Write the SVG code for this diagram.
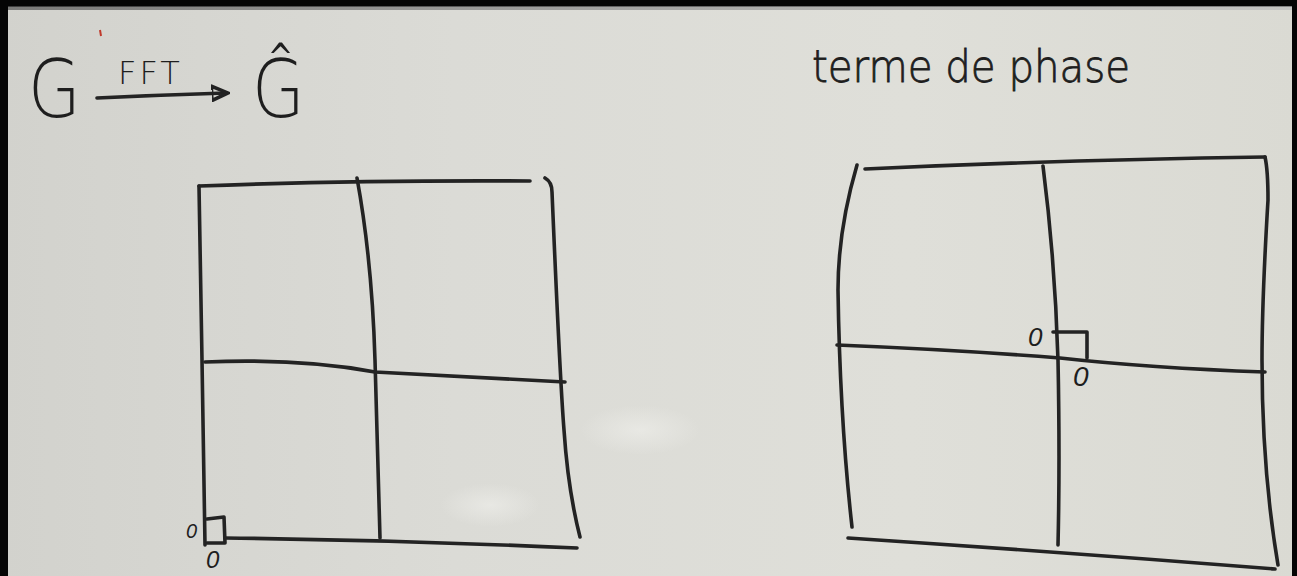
<svg xmlns="http://www.w3.org/2000/svg" width="1297" height="576" viewBox="0 0 1297 576">
<defs>
  <linearGradient id="board" x1="0" y1="0" x2="1" y2="0">
    <stop offset="0" stop-color="#d2d2cd"/>
    <stop offset="0.35" stop-color="#dbdbd6"/>
    <stop offset="0.7" stop-color="#dfdfd9"/>
    <stop offset="1" stop-color="#dadad3"/>
  </linearGradient>
  <radialGradient id="glare" cx="0.5" cy="0.5" r="0.5">
    <stop offset="0" stop-color="#f0f0ec" stop-opacity="0.6"/>
    <stop offset="1" stop-color="#f0f0ec" stop-opacity="0"/>
  </radialGradient>
  <linearGradient id="topband" x1="0" y1="0" x2="1" y2="0">
    <stop offset="0" stop-color="#555"/>
    <stop offset="0.6" stop-color="#999"/>
    <stop offset="1" stop-color="#bbb"/>
  </linearGradient>
  <marker id="head" viewBox="0 0 10 10" refX="8" refY="5" markerWidth="5" markerHeight="5" orient="auto" markerUnits="strokeWidth">
    <path d="M0,1 L9,5 L0,9 Z" fill="none" stroke="#222" stroke-width="2"/>
  </marker>
  <style>
    .ink { fill: none; stroke: #232323; stroke-width: 3.6; stroke-linecap: round; stroke-linejoin: round; }
    .hand { font-family: "DejaVu Sans", "Liberation Sans", sans-serif; font-weight: 200; fill: #1e1e1e; }
    .zero { font-family: "Liberation Sans", sans-serif; font-style: italic; fill: #1e1e1e; }
  </style>
</defs>

<!-- board background -->
<rect x="0" y="0" width="1297" height="576" fill="url(#board)"/>
<ellipse cx="640" cy="430" rx="60" ry="25" fill="url(#glare)"/>
<ellipse cx="490" cy="505" rx="50" ry="22" fill="url(#glare)"/>
<rect x="0" y="0" width="1297" height="7" fill="#050505"/>
<rect x="0" y="6" width="1297" height="4" fill="url(#topband)" opacity="0.7"/>
<rect x="0" y="0" width="8" height="576" fill="#050505"/>
<rect x="1292" y="0" width="5" height="576" fill="#050505"/>
<path d="M100,30 L101,36" stroke="#c0392b" stroke-width="2"/>

<!-- top-left formula -->
<g id="formula">
  <text class="hand" x="28" y="117" font-size="80" transform="translate(28 0) scale(0.85 1) translate(-28 0)">G</text>
  <text class="hand" x="118" y="84" font-size="32" letter-spacing="3" font-weight="400">FFT</text>
  <text class="hand" x="252" y="117" font-size="80" transform="translate(252 0) scale(0.85 1) translate(-252 0)">Ĝ</text>
</g>

<!-- right label -->
<g id="label-phase">
  <text class="hand" x="812" y="82" font-size="44" textLength="318" lengthAdjust="spacingAndGlyphs" font-weight="400" stroke="#1e1e1e" stroke-width="0.8">terme de phase</text>
</g>

<!-- left grid -->
<g id="grid-left">
  <path class="ink" d="M199,186 Q360,180 530,181"/>
  <path class="ink" d="M199,186 L202,360 L205,545"/>
  <path class="ink" d="M357,178 Q372,260 375,360 L380,538"/>
  <path class="ink" d="M545,178 Q552,182 552,192 Q560,380 564,430 Q568,490 580,537"/>
  <path class="ink" d="M205,362 Q300,358 375,372 L565,382"/>
  <path class="ink" d="M225,538 Q400,540 577,548"/>
  <path class="ink" d="M207,519 L224,517 L225,543 L207,543"/>
  <text class="zero" x="186" y="538" font-size="20">0</text>
  <text class="zero" x="206" y="568" font-size="24">0</text>
</g>

<!-- right grid -->
<g id="grid-right">
  <path class="ink" d="M865,169 Q1060,160 1265,157"/>
  <path class="ink" d="M857,165 Q838,230 838,290 Q840,420 852,527"/>
  <path class="ink" d="M1043,166 Q1055,260 1058,360 Q1060,460 1058,545"/>
  <path class="ink" d="M1265,157 Q1268,170 1268,200 Q1262,300 1262,360 Q1262,470 1278,565"/>
  <path class="ink" d="M837,345 Q960,350 1060,358 Q1150,368 1265,372"/>
  <path class="ink" d="M848,538 Q1060,552 1275,569"/>
  <path class="ink" d="M1053,332 L1087,332 L1087,358"/>
  <text class="zero" x="1028" y="346" font-size="26">0</text>
  <text class="zero" x="1073" y="386" font-size="28">0</text>
</g>

<!-- connectors -->
<g id="connectors">
  <path class="ink" d="M97,98 Q160,95 226,93" marker-end="url(#head)"/>
</g>
</svg>
